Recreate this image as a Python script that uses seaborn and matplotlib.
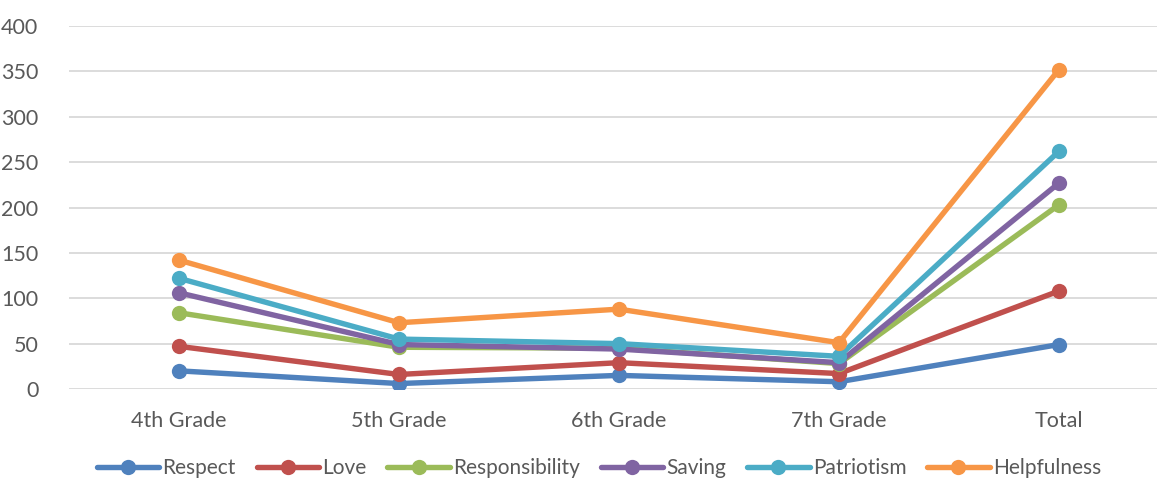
import matplotlib
matplotlib.use("Agg")
import matplotlib.pyplot as plt
import seaborn as sns
import pandas as pd

# Data
grades = ["4th Grade", "5th Grade", "6th Grade", "7th Grade", "Total"]
respect = [20, 6, 15, 8, 49]
love = [47, 16, 29, 17, 108]
responsibility = [84, 46, 45, 28, 203]
saving = [106, 49, 44, 29, 227]
patriotism = [122, 55, 50, 36, 262]
helpfulness = [142, 73, 88, 51, 352]

series = {
    "Respect": respect,
    "Love": love,
    "Responsibility": responsibility,
    "Saving": saving,
    "Patriotism": patriotism,
    "Helpfulness": helpfulness,
}
colors = ["#4F81BD", "#C0504D", "#9BBB59", "#8064A2", "#4BACC6", "#F79646"]

rows = []
for name, vals in series.items():
    for g, v in zip(grades, vals):
        rows.append({"grade": g, "value": v, "series": name})
df = pd.DataFrame(rows)

sns.set_style("white")
plt.rcParams["font.family"] = ["Lato", "DejaVu Sans"]

fig = plt.figure(figsize=(11.57, 4.82), dpi=100)
ax = fig.add_axes([69 / 1157, 1 - 389 / 482, 1100 / 1157, 363 / 482])

sns.lineplot(data=df, x="grade", y="value", hue="series", palette=colors,
             marker="o", markersize=11, markeredgewidth=0, linewidth=3.9,
             sort=False, ax=ax)

ax.set_xlim(-0.5, 4.5)
ax.set_ylim(0, 400)
ax.set_yticks(range(0, 401, 50))
ax.yaxis.grid(True, color="#D9D9D9", linewidth=1.3)
ax.set_axisbelow(True)
for s in ax.spines.values():
    s.set_visible(False)
ax.set_xlabel("")
ax.set_ylabel("")
ax.tick_params(axis="both", length=0, labelsize=15.5, colors="#595959")
ax.tick_params(axis="x", pad=16)
ax.tick_params(axis="y", pad=22)

handles, labels = ax.get_legend_handles_labels()
ax.legend(handles, labels, loc="center", bbox_to_anchor=(530 / 1100, -79 / 363),
          ncol=6, frameon=False, fontsize=15, handlelength=3.0,
          columnspacing=1.0, handletextpad=0.15, labelcolor="#595959")

fig.savefig("out.png", dpi=100)
